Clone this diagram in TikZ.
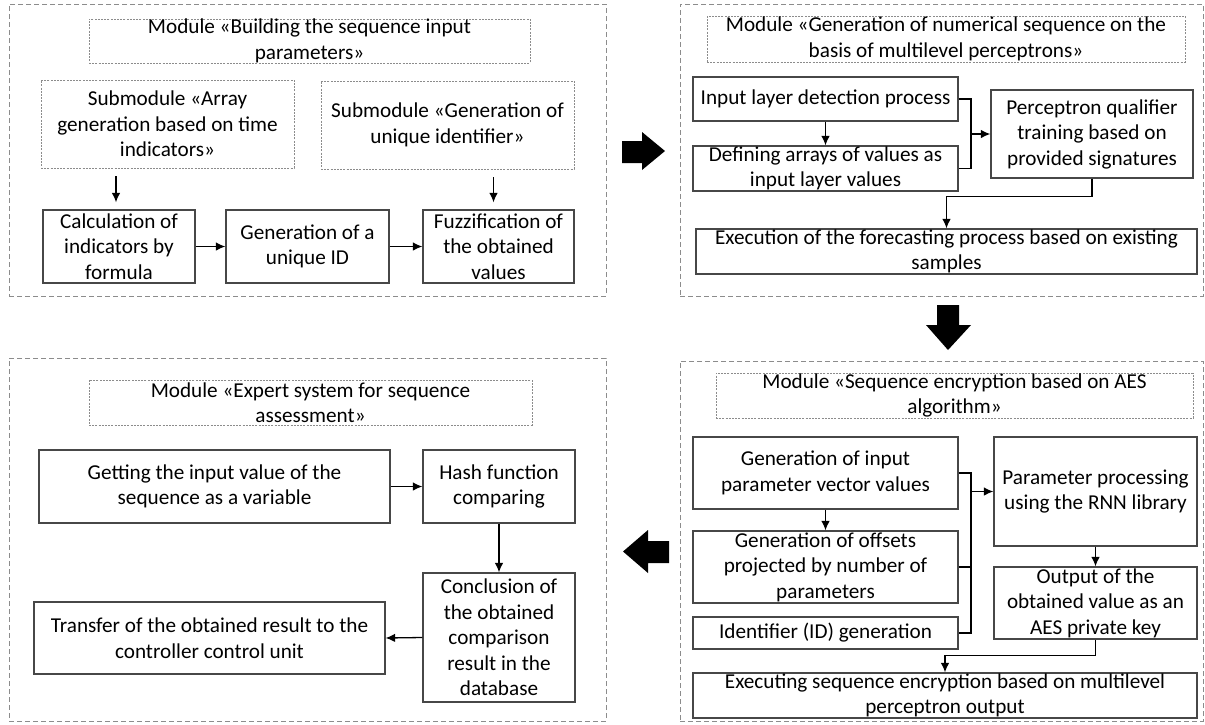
\documentclass[tikz,border=0pt]{standalone}
\usepackage{fontspec}
\setmainfont{Carlito}
\usetikzlibrary{arrows.meta}
\begin{document}
\begin{tikzpicture}[x=1pt,y=-1pt,
  every node/.style={font=\fontsize{21.2}{25.5}\selectfont, text=black},
  module/.style={draw=black!45, line width=0.8pt, dash pattern=on 5pt off 3pt, rectangle, inner sep=0pt},
  titlebox/.style={draw=black!45, line width=0.7pt, dash pattern=on 2pt off 1.2pt, rectangle, inner sep=0pt, align=center},
  subbox/.style={draw=black!45, line width=0.7pt, dash pattern=on 2pt off 1.2pt, rectangle, inner sep=0pt, align=center},
  box/.style={draw=black!72, line width=1.2pt, rectangle, inner sep=0pt, align=center},
  sz/.style n args={2}{minimum width=#1pt, minimum height=#2pt},
  arr/.style={draw=black, line width=1.3pt, -{Latex[length=9.5pt,width=8.5pt]}},
  ln/.style={draw=black, line width=1.3pt},
  bigarrow/.style={fill=black}
]
\useasboundingbox (0,0) rectangle (1205,724);

% ---------- Module 1 ----------
\node[module, sz={597}{292}] (m1) at (307.5,150) {};
\node[titlebox, sz={441}{44}] (t1) at (309.5,41) {Module «Building the sequence input\\parameters»};
\node[subbox, sz={253}{88}] (sa) at (167.5,124) {Submodule «Array\\generation based on time\\indicators»};
\node[subbox, sz={253}{88}] (sb) at (447.5,125) {Submodule «Generation of\\unique identifier»};
\node[box, sz={152}{73}] (calc) at (119,246.5) {Calculation of\\indicators by\\formula};
\node[box, sz={163}{73}] (gid) at (307.5,246.5) {Generation of a\\unique ID};
\node[box, sz={151}{73}] (fuzz) at (498.5,246.5) {Fuzzification of\\the obtained\\values};
\draw[arr, shorten <=8pt, shorten >=7pt] ([xshift=-3pt]calc.north |- sa.south) -- ([xshift=-3pt]calc.north);
\draw[arr, shorten <=8pt, shorten >=7pt] ([xshift=-5pt]fuzz.north |- sb.south) -- ([xshift=-5pt]fuzz.north);
\draw[arr] (calc.east) -- (gid.west);
\draw[arr] (gid.east) -- (fuzz.west);

% ---------- Module 2 ----------
\node[module, sz={523}{292}] (m2) at (941.5,150) {};
\node[titlebox, sz={478}{46}] (t2) at (946,39) {Module «Generation of numerical sequence on the\\basis of multilevel perceptrons»};
\node[box, sz={265}{44}] (ild) at (825.5,99) {Input layer detection process};
\node[box, sz={265}{45}] (def) at (825.5,168.5) {Defining arrays of values as\\input layer values};
\node[box, sz={202}{88}] (perc) at (1092,134) {Perceptron qualifier\\training based on\\provided signatures};
\node[box, sz={501}{45}] (exe) at (946.5,251.5) {Execution of the forecasting process based on existing\\samples};
\coordinate (j2) at (971,134);
\draw[arr] (ild.south) -- (def.north);
\draw[ln] (ild.east) -| (j2) |- (def.east);
\draw[arr] (j2) -- (perc.west);
\draw[arr] (perc.south) -- ++(0,18) -| (exe.north);

% ---------- Module 3 ----------
\node[module, sz={523}{360}] (m3) at (941.5,541) {};
\node[titlebox, sz={477}{45}] (t3) at (954.5,395.5) {Module «Sequence encryption based on AES\\algorithm»};
\node[box, sz={265}{72}] (gin) at (825.5,473) {Generation of input\\parameter vector values};
\node[box, sz={265}{72}] (off) at (825.5,567) {Generation of offsets\\projected by number of\\parameters};
\node[box, sz={265}{32}] (idg) at (825.5,633) {Identifier (ID) generation};
\node[box, sz={203}{109}] (prm) at (1095.5,491.5) {Parameter processing\\using the RNN library};
\node[box, sz={203}{72}] (out) at (1095.5,603) {Output of the\\obtained value as an\\AES private key};
\node[box, sz={504}{45}] (exc) at (945,695.5) {Executing sequence encryption based on multilevel\\perceptron output};
\coordinate (j3) at (971,491.5);
\draw[arr] (gin.south) -- (off.north);
\draw[ln] (gin.east) -| (j3) |- (idg.east);
\draw[ln] (off.east) -| (j3);
\draw[arr] (j3) -- (prm.west);
\draw[arr] (prm.south) -- (out.north);
\draw[arr] (out.south) -- ++(0,16) -| (exc.north);

% ---------- Module 4 ----------
\node[module, sz={597}{363}] (m4) at (307.5,539.5) {};
\node[titlebox, sz={443}{45}] (t4) at (310.5,402.5) {Module «Expert system for sequence\\assessment»};
\node[box, sz={351}{73}] (get) at (214.5,486.5) {Getting the input value of the\\sequence as a variable};
\node[box, sz={152}{73}] (hash) at (499,486.5) {Hash function\\comparing};
\node[box, sz={152}{129}] (conc) at (499,637.5) {Conclusion of\\the obtained\\comparison\\result in the\\database};
\node[box, sz={351}{72}] (tr) at (209.5,638) {Transfer of the obtained result to the\\controller control unit};
\draw[arr] (get.east) -- (hash.west);
\draw[arr] (hash.south) -- (conc.north);
\draw[arr] (conc.west) -- (tr.east);

% ---------- Block arrows between modules ----------
\fill[bigarrow] (622,141) -- (642,141) -- (642,132) -- (665,151) -- (642,170) -- (642,163) -- (622,163) -- cycle;
\fill[bigarrow] (937,305) -- (959,305) -- (959,325) -- (971,325) -- (948,350) -- (926,325) -- (937,325) -- cycle;
\fill[bigarrow] (669,541) -- (648,541) -- (648,530) -- (623,551.5) -- (648,573) -- (648,563) -- (669,563) -- cycle;
\end{tikzpicture}
\end{document}
